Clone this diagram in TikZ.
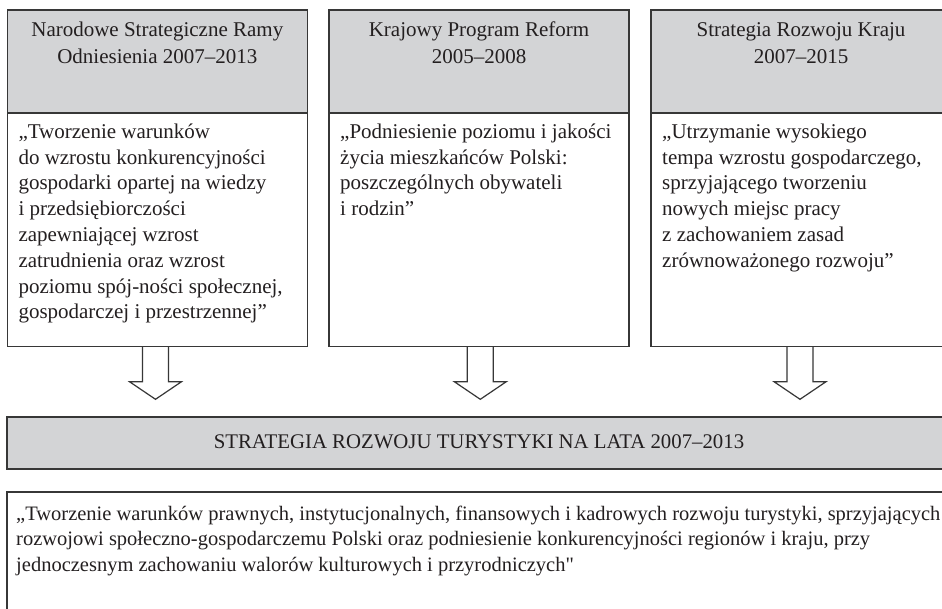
\documentclass[tikz,border=0pt]{standalone}
\usepackage{fontspec}
\setmainfont{Liberation Serif}[Ligatures=TeXOff]
\usetikzlibrary{calc}
\definecolor{boxgray}{RGB}{211,212,214}
\definecolor{linegray}{RGB}{55,55,55}
\definecolor{txt}{RGB}{35,31,32}
\begin{document}
\begin{tikzpicture}[x=1pt,y=-1pt,
  frame/.style={draw=linegray,line width=1.4pt,inner sep=0pt,outer sep=0pt,anchor=north west,minimum width=300pt},
  hdrbox/.style={frame,fill=boxgray,minimum height=103pt},
  bodybox/.style={frame,fill=white,minimum height=233.7pt},
  ttl/.style={anchor=base,align=center,inner sep=0pt,text=txt,font=\fontsize{21}{26.5}\selectfont},
  bodytxt/.style={anchor=base west,align=left,inner sep=0pt,text=txt,font=\fontsize{21}{25.8}\selectfont},
  blockarrow/.style={draw=linegray,line width=1.2pt,line join=miter}]
\useasboundingbox (0,0) rectangle (942,609);
\clip (0,0) rectangle (942,609);
\fill[white] (0,0) rectangle (942,609);

% top boxes
\node[hdrbox] (hA) at (7.3,10) {};
\node[bodybox] (bA) at (hA.south west) {};
\node[hdrbox] (hB) at (329,10) {};
\node[bodybox] (bB) at (hB.south west) {};
\node[hdrbox] (hC) at (651,10) {};
\node[bodybox] (bC) at (hC.south west) {};

% titles (anchor = baseline of last line)
\node[ttl] (tA) at ($(hA.north)+(0,53.4)$) {Narodowe Strategiczne Ramy\\Odniesienia 2007–2013};
\node[ttl] (tB) at ($(hB.north)+(0,53.4)$) {Krajowy Program Reform\\2005–2008};
\node[ttl] (tC) at ($(hC.north)+(0,53.4)$) {Strategia Rozwoju Kraju\\2007–2015};

% bodies (anchor = baseline of last line; first baseline 25.3 below top)
\node[bodytxt] (xA) at ($(bA.north west)+(11,205.9)$) {„Tworzenie warunków\\do wzrostu konkurencyjności\\gospodarki opartej na wiedzy\\i przedsiębiorczości\\zapewniającej wzrost\\zatrudnienia oraz wzrost\\poziomu spój-ności społecznej,\\gospodarczej i przestrzennej”};
\node[bodytxt] (xB) at ($(bB.north west)+(11,102.7)$) {„Podniesienie poziomu i jakości\\życia mieszkańców Polski:\\poszczególnych obywateli\\i rodzin”};
\node[bodytxt] (xC) at ($(bC.north west)+(11,154.3)$) {„Utrzymanie wysokiego\\tempa wzrostu gospodarczego,\\sprzyjającego tworzeniu\\nowych miejsc pracy\\z zachowaniem zasad\\zrównoważonego rozwoju”};

% banner
\node[frame,fill=boxgray,minimum width=944pt,minimum height=52pt] (ban) at (7,417) {};
\node[anchor=base,inner sep=0pt,text=txt,font=\fontsize{20.8}{26}\selectfont] (banT) at ($(ban.north)+(0,31)$) {STRATEGIA ROZWOJU TURYSTYKI NA LATA 2007–2013};

% bottom box
\node[frame,fill=white,minimum width=944pt,minimum height=150pt] (goal) at (7,492) {};
\node[bodytxt,font=\fontsize{20.5}{25.8}\selectfont] (goalT) at ($(goal.north west)+(9,79.6)$) {„Tworzenie warunków prawnych, instytucjonalnych, finansowych i kadrowych rozwoju turystyki, sprzyjających\\rozwojowi społeczno-gospodarczemu Polski oraz podniesienie konkurencyjności regionów i kraju, przy\\jednoczesnym zachowaniu walorów kulturowych i przyrodniczych"};

% block arrows
\foreach \b/\d in {bA/-1.8,bB/1.3,bC/-1}{
  \draw[blockarrow] ($(\b.south)+(\d-13,0)$) -- ($(\b.south)+(\d-13,35)$) -- ($(\b.south)+(\d-26,35)$)
    -- ($(\b.south)+(\d,52.6)$) -- ($(\b.south)+(\d+26,35)$) -- ($(\b.south)+(\d+13,35)$) -- ($(\b.south)+(\d+13,0)$);
}
\end{tikzpicture}
\end{document}
